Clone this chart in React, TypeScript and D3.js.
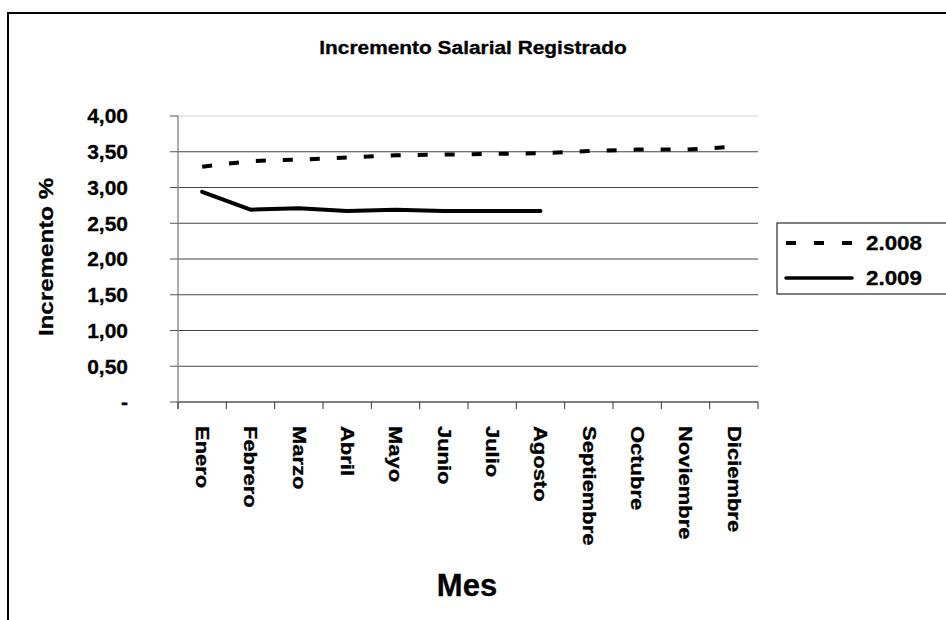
import React from "react";
import * as d3 from "d3";

const months = ["Enero","Febrero","Marzo","Abril","Mayo","Junio","Julio","Agosto","Septiembre","Octubre","Noviembre","Diciembre"];
const values2008 = [3.29, 3.37, 3.39, 3.42, 3.45, 3.46, 3.47, 3.48, 3.51, 3.53, 3.53, 3.57];
const values2009 = [2.94, 2.69, 2.71, 2.67, 2.69, 2.67, 2.67, 2.67];
const yTicks = [0, 0.5, 1, 1.5, 2, 2.5, 3, 3.5, 4];
const seriesNames = ["2.008", "2.009"];
const titleText = "Incremento Salarial Registrado";
const yTitle = "Incremento %";
const xTitle = "Mes";

const FONT = "'Liberation Sans', Arial, sans-serif";

export default function App() {
  const W = 946, H = 620;
  const x = d3.scaleBand<string>().domain(months).range([178, 758]);
  const y = d3.scaleLinear().domain([0, 4]).range([402, 116]);
  const line = d3.line<number>().x((_, i) => (x(months[i]) as number) + x.bandwidth() / 2).y(d => y(d));
  const fmt = (v: number) => (v === 0 ? "-" : v.toFixed(2).replace(".", ","));
  const tickXs = months.map(m => x(m) as number).concat([758]);
  const heavy = { stroke: "#000", strokeWidth: 0.3 };

  return (
    <svg width={W} height={H} style={{ position: "absolute", left: 0, top: 0, background: "#fff" }} fontFamily={FONT}>
      <rect x={0} y={0} width={W} height={H} fill="#fff" />
      <rect x={8} y={13} width={1100} height={800} fill="none" stroke="#000" strokeWidth={2} />
      {/* title */}
      <text transform={`translate(473,54) scale(1.16,1)`} textAnchor="middle" fontSize={18} fontWeight="bold" {...heavy}>{titleText}</text>
      {/* gridlines */}
      {yTicks.map(t => (
        <line key={t} x1={178} x2={758} y1={y(t)} y2={y(t)} stroke={t === 4 ? "#d4d4d4" : t === 0 ? "#000" : "#444"} strokeWidth={1} />
      ))}
      {/* y axis */}
      <line x1={178} x2={178} y1={y(4)} y2={409} stroke="#808080" strokeWidth={1.3} />
      {yTicks.map(t => (
        <line key={"yt" + t} x1={170} x2={178} y1={y(t)} y2={y(t)} stroke="#555" strokeWidth={1} />
      ))}
      {yTicks.map(t => (
        <text key={"yl" + t} transform={`translate(128,${y(t)}) scale(1.05,1)`} textAnchor="end" dominantBaseline="central" fontSize={20} fontWeight="bold" {...heavy}>{fmt(t)}</text>
      ))}
      {/* x ticks */}
      {tickXs.map((tx, i) => (
        <line key={"xt" + i} x1={tx} x2={tx} y1={402} y2={409} stroke="#333" strokeWidth={1} />
      ))}
      {months.map(m => (
        <text key={m} transform={`translate(${(x(m) as number) + x.bandwidth() / 2},426) rotate(90) scale(1.22,1)`} dominantBaseline="central" fontSize={18} fontWeight="bold" {...heavy}>{m}</text>
      ))}
      {/* axis titles */}
      <text transform={`translate(53,257) rotate(-90) scale(1.15,1)`} textAnchor="middle" fontSize={21} fontWeight="bold" {...heavy}>{yTitle}</text>
      <text x={467} y={596} textAnchor="middle" fontSize={31} fontWeight="bold" {...heavy}>{xTitle}</text>
      {/* series */}
      <path d={line(values2008) || ""} fill="none" stroke="#000" strokeWidth={4} strokeDasharray="10,17" />
      <path d={line(values2009) || ""} fill="none" stroke="#000" strokeWidth={4} strokeLinejoin="round" strokeLinecap="round" />
      {/* legend */}
      <rect x={777} y={223} width={300} height={71} fill="#fff" stroke="#000" strokeWidth={1} />
      <line x1={786} x2={852} y1={243} y2={243} stroke="#000" strokeWidth={4} strokeDasharray="10,18" />
      <line x1={786} x2={852} y1={278} y2={278} stroke="#000" strokeWidth={3.5} strokeLinecap="round" />
      <text transform={`translate(866,250) scale(1.12,1)`} fontSize={20} fontWeight="bold" {...heavy}>{seriesNames[0]}</text>
      <text transform={`translate(866,285) scale(1.12,1)`} fontSize={20} fontWeight="bold" {...heavy}>{seriesNames[1]}</text>
    </svg>
  );
}
